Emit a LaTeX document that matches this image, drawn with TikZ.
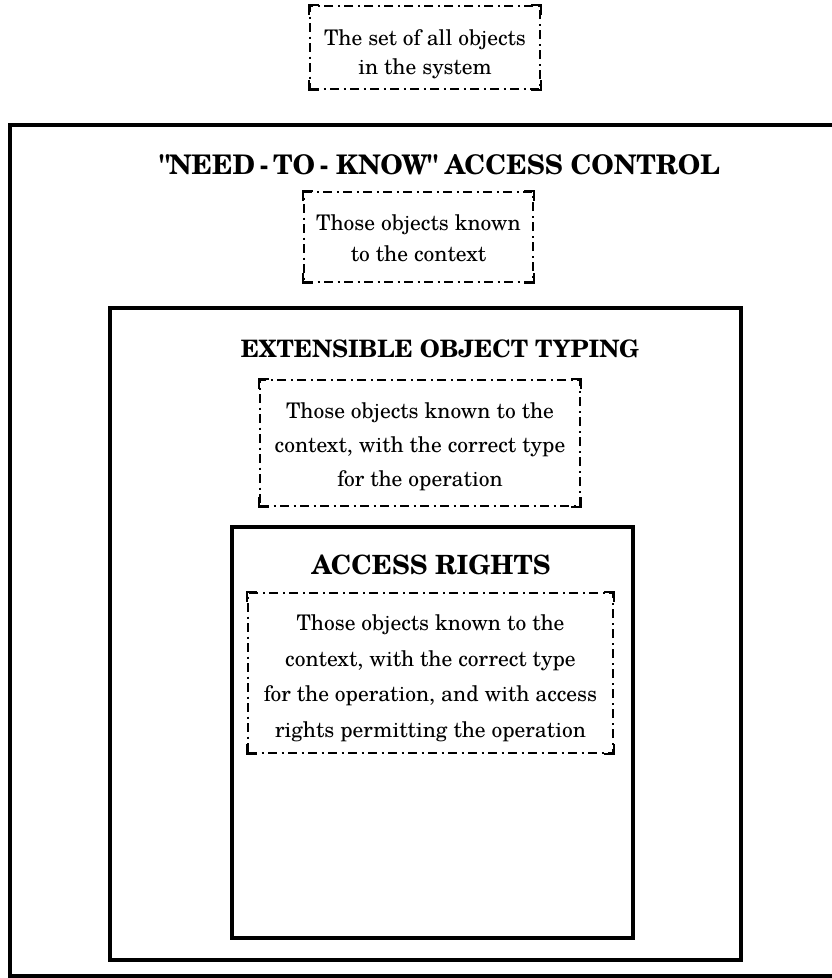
\documentclass[tikz,border=0pt]{standalone}
\usepackage{fontspec}
\setmainfont{TeX Gyre Schola}
\newfontfamily\quotefont[Ligatures=TeXOff]{TeX Gyre Schola}
\begin{document}
\begin{tikzpicture}[x=1pt,y=-1pt,
  frame/.style={draw, line width=3.5pt},
  scopebox/.style={draw, line width=1.6pt,
    dash pattern=on 9pt off 4.5pt on 2pt off 4.5pt, inner sep=0pt},
  cornerline/.style={line width=1.6pt, line cap=rect},
  bodytext/.style={align=center, inner sep=0pt,
    font=\fontsize{21.5}{#1}\selectfont},
  heading/.style={font=\fontsize{#1}{30}\selectfont\bfseries, inner sep=0pt}
]
\useasboundingbox (0,0) rectangle (832,978);
\clip (0,0) rectangle (832,978);

% nested access-control layers
\draw[frame] (10,125) rectangle (850,976);
\draw[frame] (110,308) rectangle (741,960);
\draw[frame] (232,527) rectangle (633,938);

% layer headings
\node[heading=27] (t1) at (440,165)
  {{\quotefont"}NEED\,-\,TO\,-\;KNOW{\quotefont"} ACCESS CONTROL};
\node[heading=24] (t2) at (440,349) {EXTENSIBLE OBJECT TYPING};
\node[heading=26.5] (t3) at (431,565) {ACCESS RIGHTS};

% object sets at each layer
\node[scopebox, minimum width=230pt, minimum height=83pt] (b1) at (425,47.5) {};
\node[bodytext=29] (b1t) at (425,54) {The set of all objects\\in the system};

\node[scopebox, minimum width=229pt, minimum height=90pt] (b2) at (418.5,237) {};
\node[bodytext=31] (b2t) at (418.5,238) {Those objects known\\to the context};

\node[scopebox, minimum width=320pt, minimum height=126pt] (b3) at (420,443) {};
\node[bodytext=34] (b3t) at (420,447)
  {Those objects known to the\\context, with the correct type\\for the operation};

\node[scopebox, minimum width=365pt, minimum height=160pt] (b4) at (430.5,673) {};
\node[bodytext=35.5] (b4t) at (430.5,678)
  {Those objects known to the\\context, with the correct type\\for the operation, and with access\\rights permitting the operation};

% solid corners on the dash-dot boxes
\foreach \n in {b1,b2,b3,b4}{
  \draw[cornerline] ([xshift=9pt]\n.north west) -| ([yshift=-9pt]\n.north west);
  \draw[cornerline] ([xshift=-9pt]\n.north east) -| ([yshift=-9pt]\n.north east);
  \draw[cornerline] ([xshift=9pt]\n.south west) -| ([yshift=9pt]\n.south west);
  \draw[cornerline] ([xshift=-9pt]\n.south east) -| ([yshift=9pt]\n.south east);
}
\end{tikzpicture}
\end{document}
